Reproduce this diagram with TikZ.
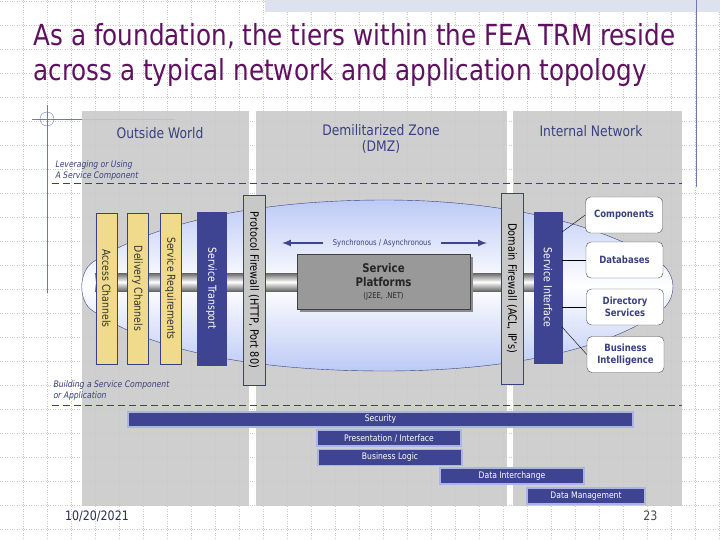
\documentclass[tikz,border=0pt]{standalone}
\usepackage{fontspec}
\setmainfont{DejaVu Sans}[FakeStretch = 0.85]
\usetikzlibrary{calc}

\definecolor{titlepurple}{RGB}{96,16,96}
\definecolor{navy}{RGB}{62,68,145}
\definecolor{labelblue}{RGB}{58,64,128}
\definecolor{panelgray}{RGB}{202,202,202}
\definecolor{gridgray}{RGB}{200,200,200}
\definecolor{glow}{RGB}{170,180,230}
\definecolor{sand}{RGB}{240,218,140}
\definecolor{fwgray}{RGB}{200,200,200}
\definecolor{lensblue}{RGB}{188,202,245}
\definecolor{hatch}{RGB}{222,226,238}
\definecolor{rulegray}{RGB}{110,120,180}

\newcommand{\sz}[2]{\fontsize{#1}{#2}\selectfont}

\begin{document}
\begin{tikzpicture}[x = 1pt, y = -1pt, > = latex,
	panel/.style = {fill = panelgray, fill opacity = 0.9},
	zone/.style = {text = labelblue, align = center, font = \sz{14.5}{16}},
	note/.style = {text = labelblue, align = left, anchor = west, font = \sz{9}{11}\itshape},
	divider/.style = {labelblue, dash pattern = on 7pt off 4pt, semithick},
	sandbar/.style = {draw = labelblue, fill = sand, rotate = -90, inner sep = 0,
		minimum width = 151, minimum height = 21, font = \sz{11}{13}, text = black!80},
	navybar/.style = {draw = navy, fill = navy, rotate = -90, inner sep = 0,
		minimum height = 29, font = \sz{11}{13}, text = white},
	wall/.style = {draw = labelblue, fill = fwgray, rotate = -90, inner sep = 0,
		minimum height = 22, font = \sz{11.5}{13}, text = black},
	store/.style = {draw = black!70, fill = white, rounded corners = 5pt,
		minimum width = 77, minimum height = 36, align = center,
		font = \sz{10}{12}\bfseries, text = labelblue},
	tier/.style = {draw = glow, line width = 1.2pt, fill = navy, inner sep = 0,
		minimum height = 16, font = \sz{9}{11}, text = white}]

	% Page size

	\useasboundingbox (0, 0) rectangle (720, 540);

	% Background grid

	\foreach \x in {23, 47, ..., 719}
		\draw [gridgray, dotted] (\x, 0) -- (\x, 540);
	\foreach \y in {1, 25, ..., 540}
		\draw [gridgray, dotted] (0, \y) -- (720, \y);

	% Slide decoration

	\fill [hatch] (265, 0) rectangle (720, 12);
	\draw [rulegray] (696, 0) -- (696, 187);
	\draw [rulegray] (32, 119) -- (175, 119);
	\draw [rulegray] (47, 105) -- (47, 293);
	\draw [rulegray] (47, 119) circle (7);

	% Title

	\node [anchor = base west, text = titlepurple, font = \sz{29}{34}] (title-1) at (30, 46)
		{As a foundation, the tiers within the FEA TRM reside};
	\node [anchor = base west, text = titlepurple, font = \sz{29}{34}] (title-2) at (30, 81)
		{across a typical network and application topology};

	% Zones

	\fill [panel] (82, 111) rectangle (249, 506);
	\fill [panel] (256, 111) rectangle (507, 506);
	\fill [panel] (513, 111) rectangle (682, 506);

	\node [zone] (outside) at (160, 133) {Outside World};
	\node [zone] (dmz) at (381, 139) {Demilitarized Zone\\(DMZ)};
	\node [zone] (internal) at (591, 131) {Internal Network};

	% Notes and dividers

	\node [note] (lever) at (52, 171) {Leveraging or Using\\A Service Component};
	\draw [divider] (52, 183) -- (682, 183);

	\node [note] (build) at (50, 391) {Building a Service Component\\or Application};
	\draw [divider] (52, 405) -- (682, 405);

	% Lens behind the stack

	\shade [draw = labelblue, top color = lensblue, bottom color = lensblue, middle color = white]
		(93, 262) .. controls (78, 272) and (78, 302) .. (93, 311)
		.. controls (150, 350) and (250, 371) .. (385, 371)
		.. controls (520, 371) and (620, 345) .. (665, 307)
		.. controls (676, 295) and (676, 277) .. (663, 265)
		.. controls (620, 232) and (520, 200) .. (385, 200)
		.. controls (250, 200) and (150, 225) .. (93, 262) -- cycle;

	% Pipe

	\shade [top color = black!60, bottom color = black!60, middle color = white]
		(95, 273) rectangle (535, 291);

	% Vertical layers

	\node [sandbar] (access) at (106.5, 288.5) {Access Channels};
	\node [sandbar] (delivery) at (137.5, 288.5) {Delivery Channels};
	\node [sandbar] (require) at (170.5, 288.5) {Service Requirements};
	\node [navybar, minimum width = 153] (transport) at (211.5, 288.5) {Service Transport};
	\node [wall, minimum width = 190] (protocol) at (254, 290) {Protocol Firewall (HTTP, Port 80)};
	\node [wall, minimum width = 191] (domain) at (512, 288.5) {Domain Firewall (ACL, IP's)};
	\node [navybar, minimum width = 151, minimum height = 28] (interface) at (548, 287.5) {Service Interface};

	% Service platforms

	\fill [black!45] (300, 257) rectangle (473, 312);
	\node [draw = black!75, fill = black!40, minimum width = 173, minimum height = 55,
		inner sep = 0, align = center, font = \sz{12}{14}\bfseries, text = black!85]
		(platform) at (383.5, 281.5)
		{Service\\Platforms\\[-2pt]{\sz{8}{10}\mdseries(J2EE, .NET)}};

	\node [text = labelblue, font = \sz{8}{10}] (sync) at (382, 243) {Synchronous / Asynchronous};
	\coordinate (sync-left) at (282, 243);
	\coordinate (sync-right) at (487, 243);
	\draw [navy, line width = 2pt, ->, shorten <= 6pt] (sync.west) -- (sync-left);
	\draw [navy, line width = 2pt, ->, shorten <= 6pt] (sync.east) -- (sync-right);

	% Internal resources

	\node [store] (comp) at (624, 215) {Components};
	\node [store] (db) at (624.5, 260) {Databases};
	\node [store] (dir) at (625, 307) {Directory\\Services};
	\node [store] (bi) at (625.5, 354.5) {Business\\Intelligence};

	\coordinate (si-top) at (562, 232);
	\coordinate (si-bottom) at (562, 327);
	\draw (comp.west) -- (si-top);
	\draw (db.west) -- (db.west -| interface.north);
	\draw (dir.west) -- (dir.west -| interface.north);
	\draw (bi.west) -- (si-bottom);

	% Horizontal tiers

	\node [tier, minimum width = 505, minimum height = 15] (security) at (380.5, 419.5) {Security};
	\node [tier, minimum width = 144] (present) at (389, 438) {Presentation / Interface};
	\node [tier, minimum width = 144] (logic) at (390, 457.5) {Business Logic};
	\node [tier, minimum width = 144] (exchange) at (512, 476) {Data Interchange};
	\node [tier, minimum width = 118] (manage) at (586, 496) {Data Management};

	% Footer

	\node [text = labelblue!70!black, font = \sz{13}{15}] (date) at (97, 516) {10/20/2021};
	\node [anchor = east, text = black!70, font = \sz{13}{15}] (page) at (661, 516) {23};

\end{tikzpicture}
\end{document}
